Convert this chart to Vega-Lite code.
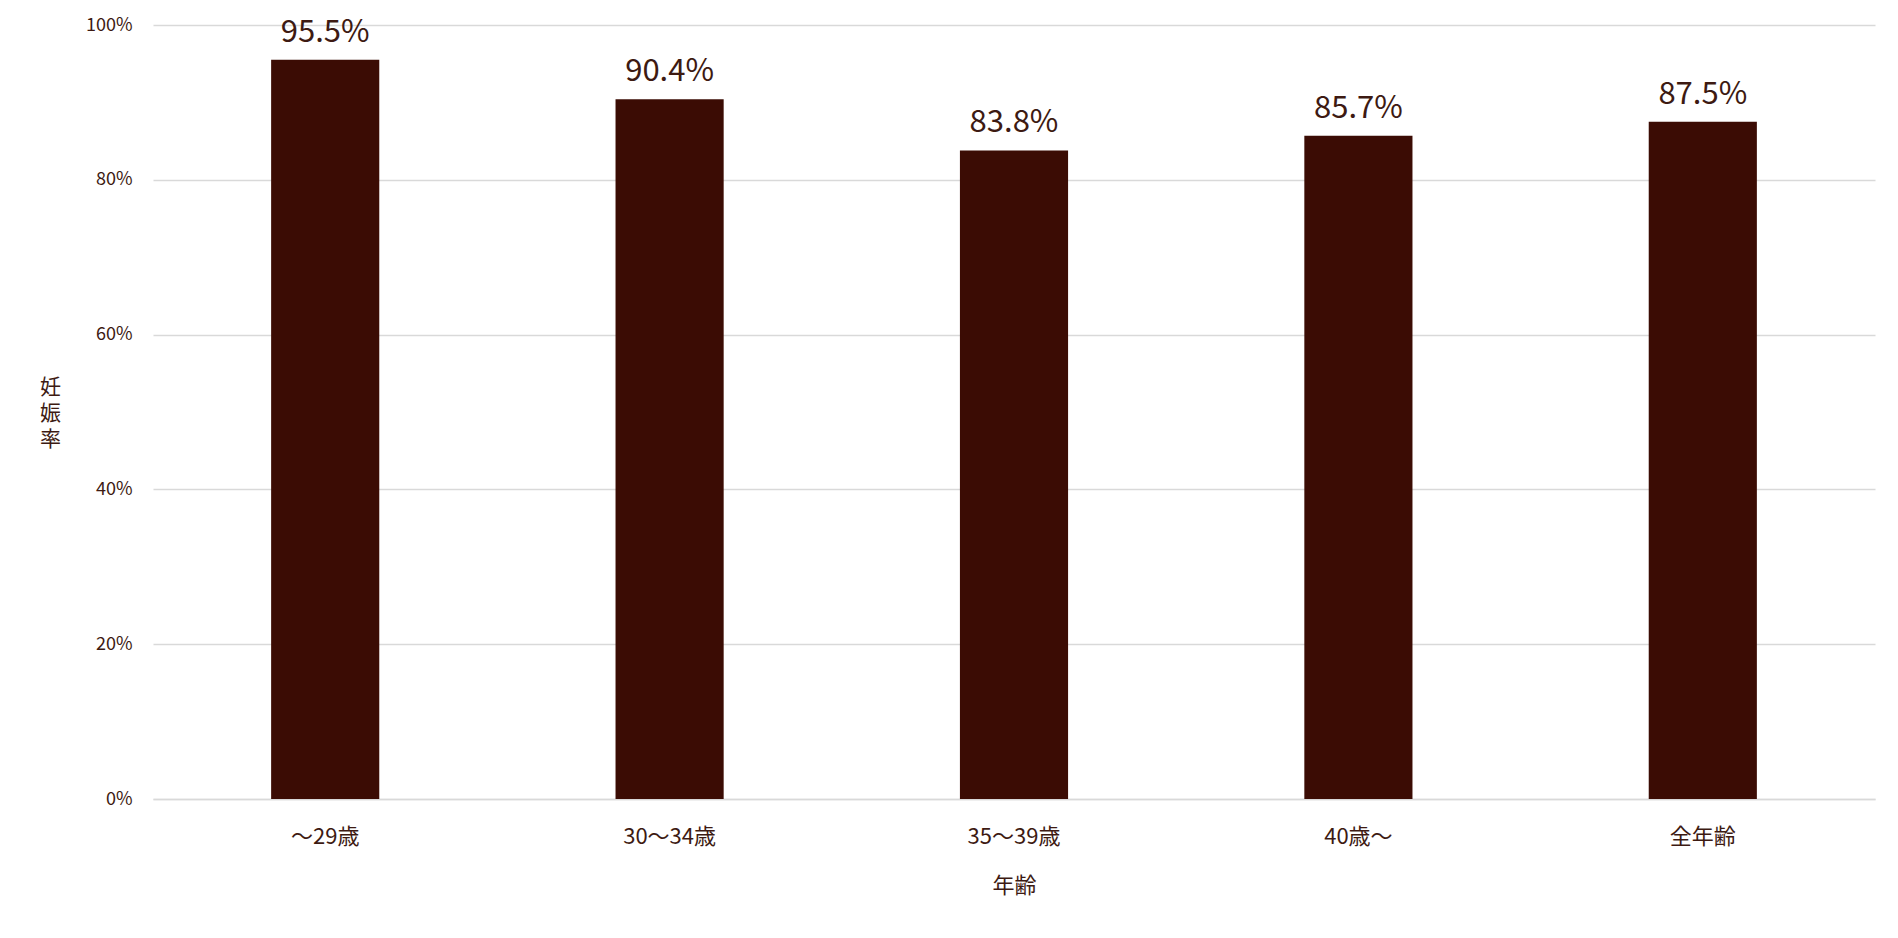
{
  "$schema": "https://vega.github.io/schema/vega-lite/v6.json",
  "width": 1722,
  "height": 774,
  "autosize": {"type": "none"},
  "padding": {"left": 153, "top": 25, "right": 23, "bottom": 139},
  "background": "white",
  "config": {
    "view": {"stroke": null},
    "font": "Noto Sans CJK JP"
  },
  "data": {
    "values": [
      {"age": "〜29歳", "rate": 0.955},
      {"age": "30〜34歳", "rate": 0.904},
      {"age": "35〜39歳", "rate": 0.838},
      {"age": "40歳〜", "rate": 0.857},
      {"age": "全年齢", "rate": 0.875}
    ]
  },
  "encoding": {
    "x": {
      "field": "age",
      "type": "nominal",
      "sort": null,
      "scale": {"paddingInner": 0.686, "paddingOuter": 0.343},
      "axis": {
        "title": "年齢",
        "titleFont": "Noto Sans CJK JP",
        "titleFontSize": 22,
        "titleFontWeight": "normal",
        "titleColor": "#3d1a12",
        "titleBaseline": "middle",
        "titleY": 86,
        "labelAngle": 0,
        "labelFontSize": 22,
        "labelColor": "#3d1a12",
        "labelBaseline": "middle",
        "labelPadding": 37,
        "ticks": false,
        "domain": true,
        "domainColor": "#d9d9d9",
        "domainWidth": 1.5,
        "grid": false
      }
    },
    "y": {
      "field": "rate",
      "type": "quantitative",
      "scale": {"domain": [0, 1], "nice": false},
      "axis": {
        "title": ["妊", "娠", "率"],
        "titleAngle": 0,
        "titleFont": "Noto Sans CJK JP",
        "titleFontSize": 21,
        "titleFontWeight": "normal",
        "titleColor": "#3d1a12",
        "titleLineHeight": 26,
        "titleAlign": "center",
        "titleBaseline": "middle",
        "titleX": -103,
        "titleY": 362,
        "format": ".0%",
        "values": [0, 0.2, 0.4, 0.6, 0.8, 1],
        "labelFontSize": 18,
        "labelColor": "#3d1a12",
        "labelPadding": 21,
        "ticks": false,
        "domain": false,
        "grid": true,
        "gridColor": "#d9d9d9",
        "gridWidth": 1.5
      }
    }
  },
  "layer": [
    {"mark": {"type": "bar", "color": "#3b0c04"}},
    {
      "mark": {"type": "text", "baseline": "alphabetic", "dy": -18, "fontSize": 31, "color": "#3d1a12"},
      "encoding": {"text": {"field": "rate", "type": "quantitative", "format": ".1%"}}
    }
  ]
}
